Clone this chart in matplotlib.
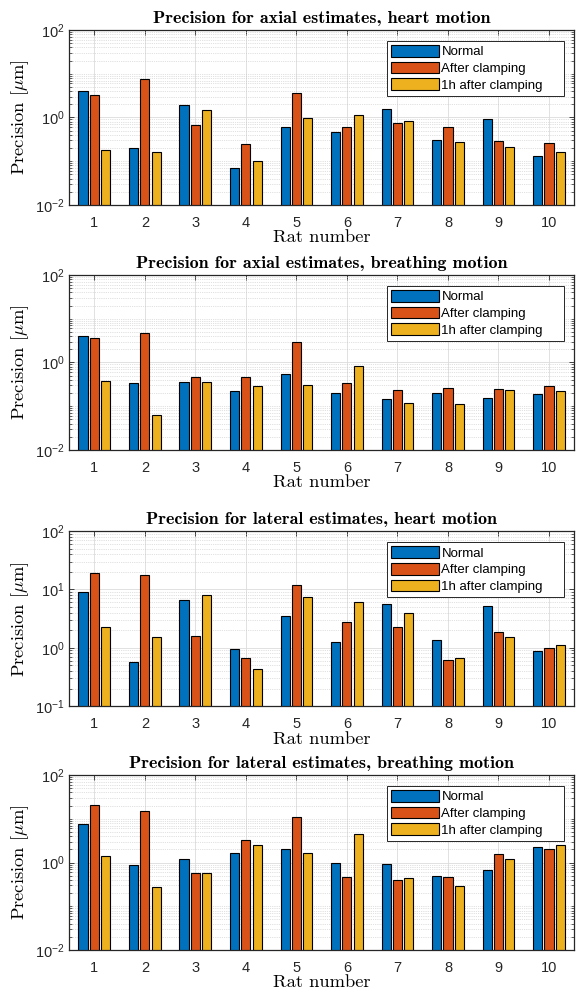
import numpy as np
import matplotlib
matplotlib.use('Agg')
import matplotlib.pyplot as plt
from matplotlib.ticker import LogLocator, NullFormatter

plt.rcParams['font.family'] = 'Liberation Sans'
plt.rcParams['mathtext.fontset'] = 'custom'
plt.rcParams['mathtext.rm'] = 'Liberation Sans'
plt.rcParams['mathtext.it'] = 'Liberation Sans:italic'
plt.rcParams['mathtext.bf'] = 'Liberation Sans:bold'

rats = np.arange(1, 11)
series = ['Normal', 'After clamping', '1h after clamping']
colors = ['#0072BD', '#D95319', '#EDB120']

titles = ['Precision for axial estimates, heart motion',
          'Precision for axial estimates, breathing motion',
          'Precision for lateral estimates, heart motion',
          'Precision for lateral estimates, breathing motion']

# axial, heart
ax_heart_normal = [4.1, 0.205, 1.97, 0.069, 0.59, 0.46, 1.60, 0.30, 0.90, 0.128]
ax_heart_after = [3.2, 7.7, 0.66, 0.248, 3.7, 0.60, 0.73, 0.61, 0.295, 0.256]
ax_heart_1h = [0.184, 0.160, 1.47, 0.100, 0.98, 1.11, 0.83, 0.27, 0.208, 0.163]

# axial, breathing
ax_breath_normal = [4.1, 0.338, 0.357, 0.219, 0.552, 0.20, 0.146, 0.20, 0.151, 0.187]
ax_breath_after = [3.6, 4.6, 0.455, 0.455, 3.0, 0.333, 0.23, 0.26, 0.251, 0.294]
ax_breath_1h = [0.376, 0.063, 0.357, 0.284, 0.31, 0.83, 0.119, 0.112, 0.239, 0.219]

# lateral, heart
lat_heart_normal = [9.1, 0.58, 6.7, 0.97, 3.56, 1.28, 5.7, 1.37, 5.27, 0.88]
lat_heart_after = [19.5, 17.8, 1.58, 0.66, 11.9, 2.81, 2.31, 0.61, 1.90, 1.01]
lat_heart_1h = [2.31, 1.54, 7.9, 0.43, 7.4, 6.2, 3.9, 0.68, 1.54, 1.12]

# lateral, breathing
lat_breath_normal = [7.7, 0.855, 1.19, 1.69, 2.01, 0.98, 0.90, 0.50, 0.66, 2.27]
lat_breath_after = [20.1, 14.7, 0.59, 3.2, 11.1, 0.47, 0.39, 0.47, 1.57, 2.05]
lat_breath_1h = [1.44, 0.28, 0.58, 2.57, 1.69, 4.4, 0.44, 0.285, 1.23, 2.57]

panels = [
    [ax_heart_normal, ax_heart_after, ax_heart_1h],
    [ax_breath_normal, ax_breath_after, ax_breath_1h],
    [lat_heart_normal, lat_heart_after, lat_heart_1h],
    [lat_breath_normal, lat_breath_after, lat_breath_1h],
]
ylims = [(1e-2, 1e2), (1e-2, 1e2), (1e-1, 1e2), (1e-2, 1e2)]
yticks = [[1e-2, 1e0, 1e2], [1e-2, 1e0, 1e2], [1e-1, 1e0, 1e1, 1e2], [1e-2, 1e0, 1e2]]

fig = plt.figure(figsize=(5.76, 9.89), dpi=100)
bottoms = [0.7927, 0.545, 0.286, 0.0394]

for i, (data, bot) in enumerate(zip(panels, bottoms)):
    ax = fig.add_axes([0.120, bot, 0.877, 0.177])
    ax.set_yscale('log')
    for k, vals in enumerate(data):
        ax.bar(rats + (k - 1) * 0.225, vals, width=0.18, bottom=1e-3,
               color=colors[k], edgecolor='black', linewidth=0.8,
               label=series[k], zorder=2)
    ax.set_xlim(0.5, 10.5)
    ax.set_ylim(*ylims[i])
    ax.set_xticks(rats)
    ax.set_yticks(yticks[i])
    ax.set_yticklabels([r'$10^{%d}$' % round(np.log10(t)) for t in yticks[i]])
    ax.yaxis.set_minor_locator(LogLocator(base=10, subs=np.arange(1, 10), numticks=20))
    ax.yaxis.set_minor_formatter(NullFormatter())
    ax.tick_params(which='both', direction='in', top=True, right=True,
                   color='#262626', labelsize=10.5, labelcolor='#262626')
    ax.tick_params(which='major', length=3.5, width=0.6)
    ax.tick_params(which='minor', length=2, width=0.5)
    ax.tick_params(axis='x', pad=8)
    ax.grid(True, which='major', color='#dcdcdc', linewidth=0.6, linestyle='-')
    ax.grid(True, which='minor', axis='y', color='#c4c4c4', linewidth=0.5, linestyle=':')
    ax.set_axisbelow(True)
    for s in ax.spines.values():
        s.set_color('#262626')
        s.set_linewidth(0.9)
    ax.set_title(titles[i], family='cmb10', fontsize=13, pad=5)
    ax.set_xlabel('Rat number', family='cmr10', fontsize=13.3, labelpad=0)
    ax.set_ylabel('Precision [$\\mu$m]', family='cmr10', math_fontfamily='cm',
                  fontsize=13.3, labelpad=3)
    leg = ax.legend(loc='upper left', bbox_to_anchor=(0.630, 0.0, 0.350, 0.937),
                    mode='expand', fontsize=9.5,
                    handlelength=3.6, handleheight=1.0, labelspacing=0.25,
                    handletextpad=0.2, borderpad=0.3, borderaxespad=0,
                    fancybox=False, framealpha=1)
    leg.get_frame().set_edgecolor('#262626')
    leg.get_frame().set_linewidth(0.7)

fig.savefig('out.png', dpi=100)
